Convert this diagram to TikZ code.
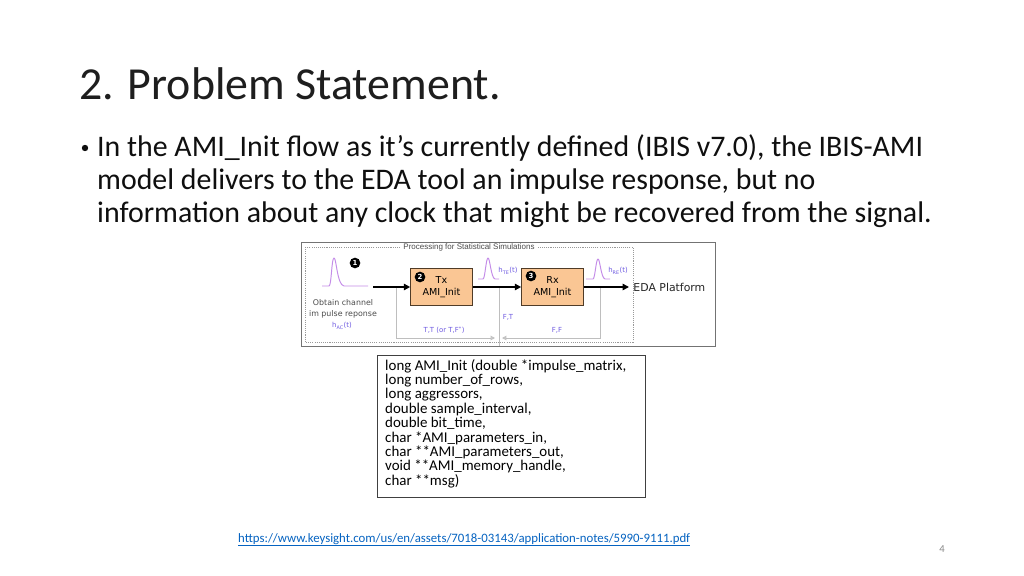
\documentclass[tikz,border=0pt]{standalone}
\usepackage{fontspec}
\setmainfont{Carlito}
\newfontfamily\dejavu{DejaVu Sans}
\newfontfamily\libsans{Liberation Sans}
\usetikzlibrary{arrows.meta}
\definecolor{titlegray}{RGB}{30,30,30}
\definecolor{bodytext}{RGB}{15,15,15}
\definecolor{pulsecol}{RGB}{196,140,232}
\definecolor{lblcol}{RGB}{110,90,225}
\definecolor{boxfill}{RGB}{250,198,148}
\definecolor{boxline}{RGB}{80,60,40}
\definecolor{fbgray}{RGB}{190,190,190}
\definecolor{linkblue}{RGB}{5,99,193}
\definecolor{pagegray}{RGB}{137,137,137}
\tikzset{
  bodyline/.style={anchor=base west, inner sep=0, text=bodytext, font=\fontsize{28}{30.5}\selectfont},
  pulse/.style={draw=pulsecol, line width=0.9pt, line join=round},
  numdot/.style={circle, fill=black, text=white, inner sep=0, minimum size=10pt, font=\dejavu\bfseries\fontsize{6.5}{6.5}\selectfont},
  amibox/.style={draw=boxline, fill=boxfill, line width=0.7pt, minimum width=58pt, minimum height=34.7pt, align=center, font=\dejavu\fontsize{9}{11}\selectfont},
  mainarrow/.style={draw=black, line width=1.5pt, -{Triangle[length=6pt,width=6pt]}},
  fb/.style={draw=fbgray, line width=0.9pt, -{Triangle[open,length=4pt,width=4pt]}},
  fbline/.style={draw=fbgray, line width=0.9pt},
  smalllbl/.style={text=lblcol, inner sep=0, font=\dejavu\fontsize{6.5}{7}\selectfont},
  graytext/.style={text=black!70, inner sep=0, font=\dejavu\fontsize{7.4}{10.5}\selectfont, align=center}
}
\begin{document}
\begin{tikzpicture}[x=0.9375pt,y=-0.9375pt]
\useasboundingbox (0,0) rectangle (1024,576);
\fill[white] (0,0) rectangle (1024,576);

% title
\node[anchor=base west, inner sep=0, text=titlegray, font=\fontsize{43}{52}\selectfont] (title) at (79,100) {2. Problem Statement.};

% bullet
\node[circle, fill=bodytext, inner sep=0, minimum size=6pt] (bullet) at (85,148) {};
\node[bodyline] (l1) at (97,157) {In the AMI\_Init flow as it’s currently defined (IBIS v7.0), the IBIS-AMI};
\node[bodyline] (l2) at (97,189.5) {model delivers to the EDA tool an impulse response, but no};
\node[bodyline] (l3) at (97,222) {information about any clock that might be recovered from the signal.};

% diagram frame
\node[draw=black!55, line width=0.6pt, minimum width=388pt, minimum height=97.5pt, inner sep=0, anchor=north west] (frame) at (301,242) {};
\draw[black!40, line width=0.5pt, dash pattern=on 1pt off 1pt] (305,247) rectangle (633,342);
\node[fill=white, inner xsep=2pt, inner ysep=0.5pt, text=black!70, font=\libsans\fontsize{7.5}{8}\selectfont] (proc) at (469,247) {Processing for Statistical Simulations};

% pulses
\draw[pulse] (322,286) -- (329,286) .. controls (331.5,286) and (331.5,258) .. (334,258) .. controls (336.5,258) and (337,285) .. (344,286) -- (368,286);
\draw[pulse] (478,279) -- (483,279) .. controls (485,279) and (486,258) .. (488,258) .. controls (490,258) and (491,278) .. (495,279) -- (499,279);
\draw[pulse] (586,279) -- (593,279) .. controls (595,279) and (596,259) .. (598,259) .. controls (600,259) and (601,278) .. (605,279) -- (610,279);

% numbered dots
\node[numdot] (n1) at (355,263) {1};

% boxes
\node[amibox] (tx) at (441.5,287) {Tx\\AMI\_Init};
\node[amibox] (rx) at (552.5,287) {Rx\\AMI\_Init};
\node[numdot] (n2) at (420,277) {2};
\node[numdot] (n3) at (531,276) {3};

% EDA
\node[anchor=west, inner xsep=4pt, inner ysep=0, font=\dejavu\fontsize{10.2}{11}\selectfont, text=black!85] (eda) at (629,287) {EDA Platform};

% feedback lines
\coordinate (f1top) at (396,287);
\coordinate (f1tip) at (495,338);
\coordinate (f2top) at (600,287);
\coordinate (f2tip) at (502,338);
\coordinate (vtop) at (499,287);
\coordinate (vbot) at (499,346);
\draw[fb] (f1top) |- (f1tip);
\draw[fb] (f2top) |- (f2tip);
\draw[fbline] (vtop) -- (vbot);

% main path
\coordinate (src) at (373,287);
\draw[mainarrow] (src) -- (tx.west);
\draw[mainarrow] (tx.east) -- (rx.west);
\draw[mainarrow] (rx.east) -- (eda.west);

% labels
\node[graytext] (obtain) at (343,308.5) {Obtain channel\\im pulse reponse};
\node[smalllbl] (hac) at (342,326) {h\textsubscript{AC}(t)};
\node[smalllbl] (hte) at (508,271) {h\textsubscript{TE}(t)};
\node[smalllbl] (hre) at (618,271) {h\textsubscript{RE}(t)};
\node[smalllbl] (tt) at (444,330) {T,T (or T,F\textsuperscript{*})};
\node[smalllbl] (ft) at (508,317) {F,T};
\node[smalllbl] (ff) at (557,330) {F,F};

% code box
\node[draw=black!75, line width=0.6pt, anchor=north west, minimum width=251pt, minimum height=133pt, inner sep=0] (codebox) at (377,355) {};
\node[anchor=north west, inner sep=0, align=left, text=black, font=\fontsize{14}{13.5}\selectfont] (code) at (385,359) {long AMI\_Init (double *impulse\_matrix,\\long number\_of\_rows,\\long aggressors,\\double sample\_interval,\\double bit\_time,\\char *AMI\_parameters\_in,\\char **AMI\_parameters\_out,\\void **AMI\_memory\_handle,\\char **msg)};

% link and page number
\node[anchor=base west, inner sep=0, text=linkblue, font=\fontsize{12}{13}\selectfont] (link) at (238,542) {\underline{https://www.keysight.com/us/en/assets/7018-03143/application-notes/5990-9111.pdf}};
\node[text=pagegray, inner sep=0, font=\fontsize{10}{12}\selectfont] (page) at (942,549) {4};
\end{tikzpicture}
\end{document}
